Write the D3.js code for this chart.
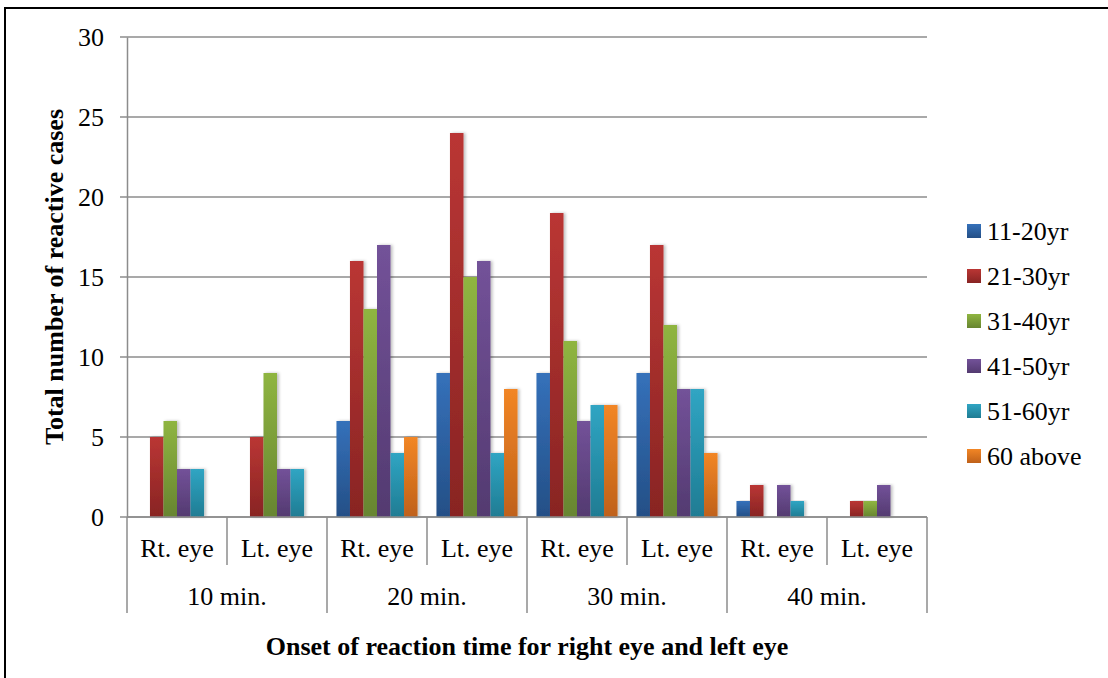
<!DOCTYPE html>
<html>

<head>
  <meta charset="utf-8" />
  <title>Onset of reaction time</title>
  <style>
    body {
      margin: 0;
      background: #fff;
    }
  </style>
  <script src="https://cdnjs.cloudflare.com/ajax/libs/d3/7.8.5/d3.min.js"></script>
</head>

<body>
  <div id="chartArea"></div>
  <script>
    // data
    var times = ['10 min.', '20 min.', '30 min.', '40 min.'];
    var eyes = ['Rt. eye', 'Lt. eye'];
    var series = ['11-20yr', '21-30yr', '31-40yr', '41-50yr', '51-60yr', '60 above'];
    // one row per (time, eye) pair, one value per series
    var values = [
      [0, 5, 6, 3, 3, 0],
      [0, 5, 9, 3, 3, 0],
      [6, 16, 13, 17, 4, 5],
      [9, 24, 15, 16, 4, 8],
      [9, 19, 11, 6, 7, 7],
      [9, 17, 12, 8, 8, 4],
      [1, 2, 0, 2, 1, 0],
      [0, 1, 1, 2, 0, 0]
    ];
    var yTicks = [0, 5, 10, 15, 20, 25, 30];
    var colTop = ['#3571ba', '#ba3634', '#8fb541', '#735299', '#30a5c3', '#f28625'];
    var colBottom = ['#244f86', '#882423', '#678530', '#533a70', '#1f7c93', '#bf611a'];

    var FONT = "'Liberation Serif', 'DejaVu Serif', 'Times New Roman', Times, serif";
    var W = 1108, H = 678;
    var margin = { left: 127, top: 37, right: 181, bottom: 161 };
    var w = W - margin.left - margin.right,
      h = H - margin.top - margin.bottom;

    var svg = d3.select('#chartArea').append('svg')
      .attr('width', W)
      .attr('height', H)
      .attr('font-family', FONT);

    // outer frame
    svg.append('rect')
      .attr('x', 5).attr('y', 8)
      .attr('width', W + 10).attr('height', H + 10)
      .attr('fill', 'none')
      .attr('stroke', '#000')
      .attr('stroke-width', 2);

    var defs = svg.append('defs');
    series.forEach(function (s, i) {
      var g = defs.append('linearGradient')
        .attr('id', 'grad' + i)
        .attr('x1', 0).attr('y1', 0).attr('x2', 0).attr('y2', 1);
      g.append('stop').attr('offset', '0%').attr('stop-color', colTop[i]);
      g.append('stop').attr('offset', '100%').attr('stop-color', colBottom[i]);
    });
    var f = defs.append('filter').attr('id', 'shadow')
      .attr('x', '-20%').attr('y', '-5%').attr('width', '160%').attr('height', '110%');
    f.append('feDropShadow')
      .attr('dx', 2).attr('dy', 0).attr('stdDeviation', 1.6)
      .attr('flood-color', '#000').attr('flood-opacity', 0.25);

    var chart = svg.append('g')
      .attr('transform', 'translate(' + margin.left + ',' + margin.top + ')');

    var cats = [];
    times.forEach(function (t) {
      eyes.forEach(function (e) { cats.push(t + '|' + e); });
    });

    var x0 = d3.scaleBand().domain(cats).range([0, w]).padding(0);
    var x1 = d3.scaleBand().domain(series).range([0, x0.bandwidth()])
      .paddingInner(0).paddingOuter(0.7);
    var xt = d3.scaleBand().domain(times).range([0, w]).padding(0);
    var y = d3.scaleLinear().domain([0, 30]).range([h, 0]);

    // gridlines
    chart.append('g')
      .selectAll('line')
      .data(yTicks)
      .enter()
      .append('line')
      .attr('x1', -7).attr('x2', w)
      .attr('y1', d => y(d)).attr('y2', d => y(d))
      .attr('stroke', '#8c8c8c')
      .attr('stroke-width', 1.5);

    // y axis
    var yAxis = chart.append('g')
      .call(d3.axisLeft(y).tickValues(yTicks).tickSize(0).tickPadding(23));
    yAxis.attr('font-family', FONT).attr('font-size', 26);
    yAxis.select('.domain').attr('stroke', '#8c8c8c').attr('stroke-width', 1.5);
    yAxis.selectAll('text').attr('fill', '#000').attr('dy', '0.34em');

    // bars
    var groups = chart.append('g')
      .selectAll('g')
      .data(values)
      .enter()
      .append('g')
      .attr('transform', (d, i) => 'translate(' + x0(cats[i]) + ',0)');

    groups.selectAll('rect')
      .data(d => d.map((v, j) => ({ v: v, j: j })).filter(o => o.v > 0))
      .enter()
      .append('rect')
      .attr('x', d => x1(series[d.j]))
      .attr('y', d => y(d.v))
      .attr('width', x1.bandwidth())
      .attr('height', d => h - y(d.v))
      .attr('fill', d => 'url(#grad' + d.j + ')')
      .attr('filter', 'url(#shadow)');

    // category axis lines
    var axisG = chart.append('g');
    axisG.append('line')
      .attr('x1', 0).attr('x2', w).attr('y1', h).attr('y2', h)
      .attr('stroke', '#8c8c8c').attr('stroke-width', 1.5);
    axisG.selectAll('.inner')
      .data(cats.filter((c, i) => i % 2 === 1))
      .enter()
      .append('line')
      .attr('x1', d => x0(d)).attr('x2', d => x0(d))
      .attr('y1', h).attr('y2', h + 48)
      .attr('stroke', '#8c8c8c').attr('stroke-width', 1.5);
    axisG.selectAll('.outer')
      .data(times.map(t => xt(t)).concat([w]))
      .enter()
      .append('line')
      .attr('x1', d => d).attr('x2', d => d)
      .attr('y1', h).attr('y2', h + 96)
      .attr('stroke', '#8c8c8c').attr('stroke-width', 1.5);

    axisG.selectAll('.eyeLabel')
      .data(cats)
      .enter()
      .append('text')
      .attr('x', d => x0(d) + x0.bandwidth() / 2)
      .attr('y', h + 40)
      .attr('text-anchor', 'middle')
      .attr('font-size', 26)
      .text(d => d.split('|')[1]);

    axisG.selectAll('.timeLabel')
      .data(times)
      .enter()
      .append('text')
      .attr('x', d => xt(d) + xt.bandwidth() / 2)
      .attr('y', h + 88)
      .attr('text-anchor', 'middle')
      .attr('font-size', 26)
      .text(d => d);

    // axis titles
    svg.append('text')
      .attr('x', margin.left + w / 2)
      .attr('y', 655)
      .attr('text-anchor', 'middle')
      .attr('font-size', 26)
      .attr('font-weight', 'bold')
      .text('Onset of reaction time for right eye and left eye');

    svg.append('text')
      .attr('transform', 'translate(63,277) rotate(-90)')
      .attr('text-anchor', 'middle')
      .attr('font-size', 26)
      .attr('font-weight', 'bold')
      .text('Total number of reactive cases');

    // legend
    var legend = svg.append('g')
      .attr('transform', 'translate(967,231)');
    var item = legend.selectAll('g')
      .data(series)
      .enter()
      .append('g')
      .attr('transform', (d, i) => 'translate(0,' + i * 45 + ')');
    item.append('rect')
      .attr('x', 0).attr('y', -7)
      .attr('width', 14).attr('height', 14)
      .attr('fill', (d, i) => 'url(#grad' + i + ')');
    item.append('text')
      .attr('x', 20).attr('y', 9)
      .attr('font-size', 26)
      .text(d => d);
  </script>
</body>

</html>
